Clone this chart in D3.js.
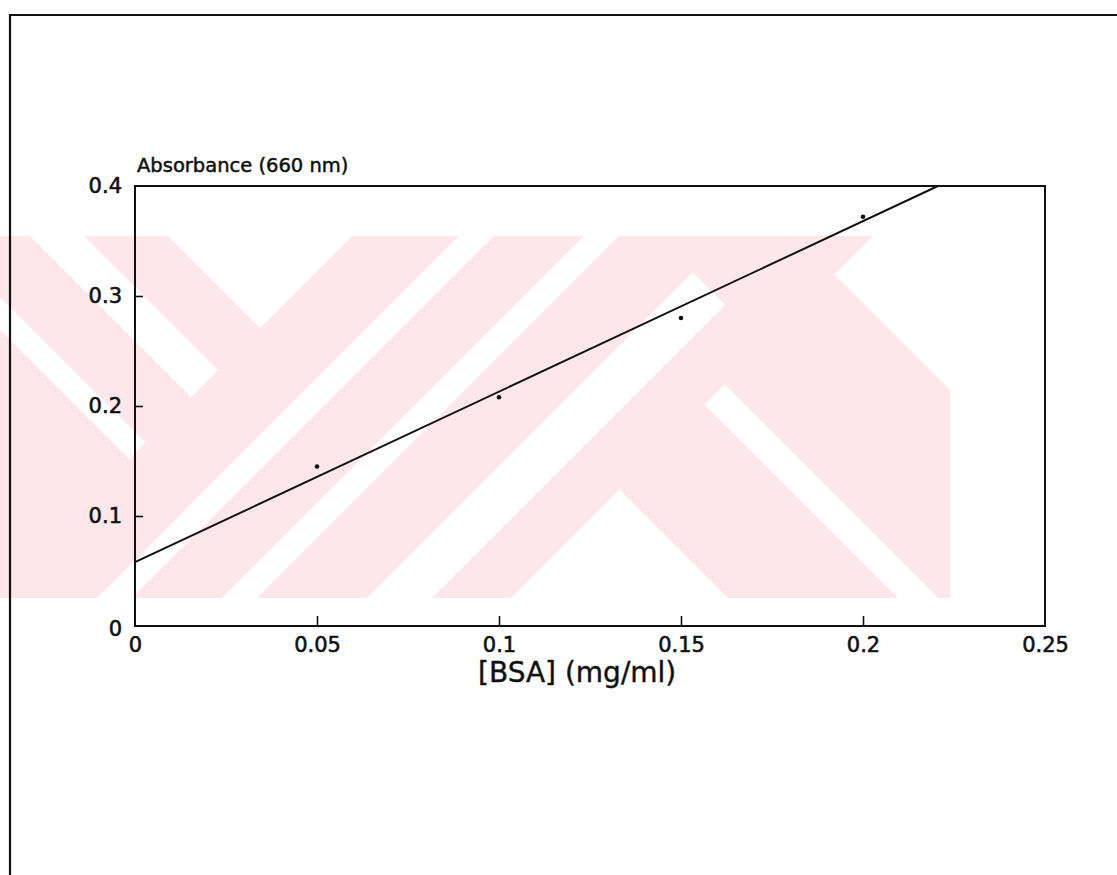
<!DOCTYPE html>
<html><head><meta charset="utf-8">
<script src="https://cdn.jsdelivr.net/npm/d3@7"></script>
<style>body{margin:0;background:#fff}svg{display:block}</style>
</head><body>
<script>
// ---- data ----
const xTicks = [0, 0.05, 0.1, 0.15, 0.2, 0.25];
const yTicks = [0, 0.1, 0.2, 0.3, 0.4];
const bsa = [0.05, 0.1, 0.15, 0.2];
const absorbance = [0.145, 0.208, 0.28, 0.372];
const fitX = [0, 0.2206];
const fitY = [0.058, 0.4];
const xTitle = "[BSA] (mg/ml)";
const yTitle = "Absorbance (660 nm)";

const W = 1117, H = 875;
const svg = d3.select("body").append("svg").attr("width", W).attr("height", H);

// ---- watermark (background decoration) ----
svg.append("clipPath").attr("id","wmclip").append("rect").attr("x",0).attr("y",236).attr("width",950).attr("height",362);
const wmg = svg.append("g").attr("clip-path","url(#wmclip)");
function uvPoly(u0,u1,v0,v1){
  const p=(u,v)=>[(u+v)/2,(u-v)/2];
  return [p(u0,v0),p(u0,v1),p(u1,v1),p(u1,v0)];
}
const pink = "#fde7eb";
const pinkShapes = [
  uvPoly(-2000,695,-2000,-330),
  uvPoly(-2000,588,-297,-206),
  uvPoly(-2000,588,-152,-68),
  uvPoly(588,695,-2000,2000),
  uvPoly(730,820,-2000,2000),
  uvPoly(855,965,-2000,2000),
  uvPoly(965,1030,420,2000),
  uvPoly(1030,1109,-2000,2000),
  uvPoly(1109,3000,130,300),
  uvPoly(1109,3000,340,560)
];
wmg.selectAll("polygon").data(pinkShapes).join("polygon")
  .attr("points", d=>d.map(p=>p.join(",")).join(" "))
  .attr("fill", pink);

// ---- page border ----
svg.append("path").attr("d","M10,875 L10,15 L1117,15").attr("fill","none").attr("stroke","#111").attr("stroke-width",2.2);

// ---- chart ----
const x = d3.scaleLinear().domain([0,0.25]).range([135,1045]);
const y = d3.scaleLinear().domain([0,0.4]).range([626,186]);
const font = "DejaVu Sans, Liberation Sans, sans-serif";

const xAxis = svg.append("g").attr("transform","translate(0,626)")
  .call(d3.axisBottom(x).tickValues(xTicks).tickSizeInner(-10).tickSizeOuter(0).tickPadding(11).tickFormat(d=>d3.format("")(d)));
xAxis.select(".domain").remove();
xAxis.selectAll(".tick line").attr("stroke","#111").attr("stroke-width",1.6).filter(d=>d===0||d===0.25).remove();
xAxis.selectAll(".tick text").attr("font-family",font).attr("font-size",21).attr("fill","#111").attr("stroke","#111").attr("stroke-width",0.6);

const yAxis = svg.append("g").attr("transform","translate(135,0)")
  .call(d3.axisLeft(y).tickValues(yTicks).tickSizeInner(-8).tickSizeOuter(0).tickPadding(13).tickFormat(d=>d3.format("")(d)));
yAxis.select(".domain").remove();
yAxis.selectAll(".tick line").attr("stroke","#111").attr("stroke-width",1.6).filter(d=>d===0||d===0.4).remove();
yAxis.selectAll(".tick text").attr("font-family",font).attr("font-size",21).attr("fill","#111").attr("stroke","#111").attr("stroke-width",0.6)
  .attr("dy", d=>d===0 ? "0.45em" : "0.32em");

// frame
svg.append("rect").attr("x",x(0)).attr("y",y(0.4)).attr("width",x(0.25)-x(0)).attr("height",y(0)-y(0.4))
  .attr("fill","none").attr("stroke","#111").attr("stroke-width",2);

// fit line
svg.append("path").datum(fitX.map((d,i)=>[d,fitY[i]]))
  .attr("d", d3.line().x(d=>x(d[0])).y(d=>y(d[1])))
  .attr("fill","none").attr("stroke","#111").attr("stroke-width",2);

// points
svg.selectAll("circle.pt").data(bsa.map((d,i)=>[d,absorbance[i]])).join("circle")
  .attr("class","pt").attr("cx",d=>x(d[0])).attr("cy",d=>y(d[1])).attr("r",2.3).attr("fill","#111");

// titles
svg.append("text").attr("x",137).attr("y",172).text(yTitle)
  .attr("font-family",font).attr("font-size",19.5).attr("fill","#111").attr("stroke","#111").attr("stroke-width",0.5);
svg.append("text").attr("x",478).attr("y",682).text(xTitle)
  .attr("font-family",font).attr("font-size",28).attr("fill","#111").attr("stroke","#111").attr("stroke-width",0.4);
</script>
</body></html>
